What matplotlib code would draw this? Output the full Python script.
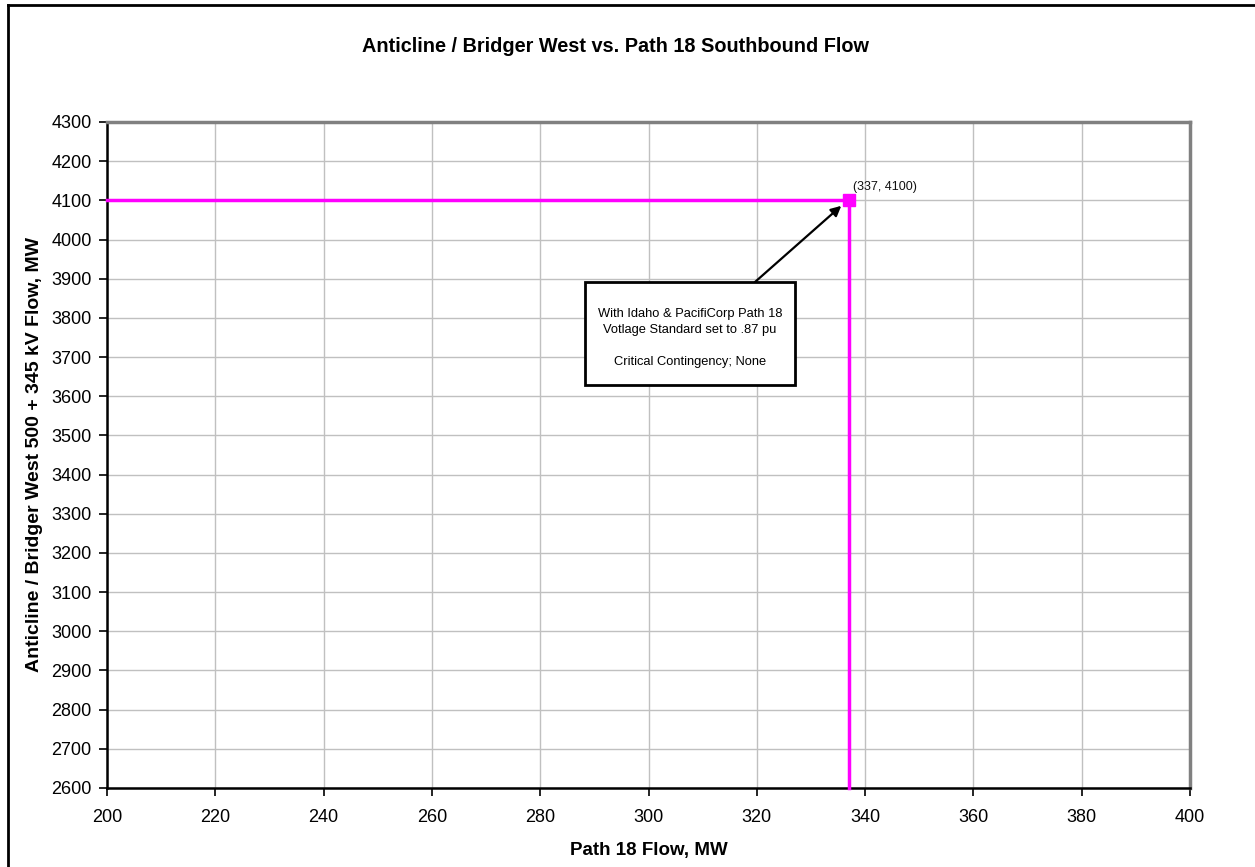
import numpy as np
import matplotlib.pyplot as plt
from matplotlib.lines import Line2D
from matplotlib.patches import Rectangle

plt.rcParams['font.family'] = ['Liberation Sans', 'DejaVu Sans']

# limit point and its guide lines
point_x = 337
point_y = 4100
guide_x = [200, 337, 337]
guide_y = [4100, 4100, 2600]
point_label = '(337, 4100)'

x_ticks = np.arange(200, 401, 20)
y_ticks = np.arange(2600, 4301, 100)

note_lines = ['With Idaho & PacifiCorp Path 18',
              'Votlage Standard set to .87 pu',
              '',
              'Critical Contingency; None']

W, H = 1255, 867
fig = plt.figure(figsize=(W/100, H/100), dpi=100)
ax = fig.add_axes([107/W, 79/H, 1083/W, 666/H])

ax.plot(guide_x, guide_y, color='#ff00ff', lw=2.5, zorder=3, clip_on=False)
ax.plot([point_x], [point_y], marker='s', ms=8, color='#ff00ff', zorder=4, clip_on=False)
ax.annotate(point_label, (point_x, point_y), xytext=(3, 5), textcoords='offset points',
            fontsize=9, color='#111111', ha='left', va='bottom')

ax.set_xlim(200, 400)
ax.set_ylim(2600, 4300)
ax.set_xticks(x_ticks)
ax.set_yticks(y_ticks)
ax.tick_params(labelsize=13, direction='out', length=6, width=1.2, color='black')
ax.tick_params(axis='x', pad=9)
ax.tick_params(axis='y', pad=5)
ax.grid(True, color='#c0c0c0', lw=1)
ax.set_axisbelow(True)
for s in ['left', 'bottom']:
    ax.spines[s].set_color('black')
    ax.spines[s].set_linewidth(1.8)
for s in ['top', 'right']:
    ax.spines[s].set_color('#808080')
    ax.spines[s].set_linewidth(2.5)

ax.set_xlabel('Path 18 Flow, MW', fontsize=13.5, fontweight='bold', labelpad=12)
ax.set_ylabel('Anticline / Bridger West 500 + 345 kV Flow, MW', fontsize=14,
              fontweight='bold', labelpad=6)
fig.text(615/W, 1 - 47/H, 'Anticline / Bridger West vs. Path 18 Southbound Flow',
         ha='center', va='center', fontsize=14.3, fontweight='bold')

# note box with arrow to the point
fig.add_artist(Rectangle((585/W, 1 - 385/H), 210/W, 103/H, transform=fig.transFigure,
                         fc='white', ec='black', lw=2, zorder=5))
fig.text(690/W, 1 - 338/H, '\n'.join(note_lines), ha='center', va='center',
         fontsize=9.3, linespacing=1.45, zorder=6)
ax.annotate('', xy=(335.6, 4086), xytext=(755/W, 1 - 282/H),
            textcoords='figure fraction',
            arrowprops=dict(arrowstyle='-|>', color='black', lw=1.6, mutation_scale=15,
                            shrinkA=0, shrinkB=0),
            zorder=5)

# chart area frame
fig.add_artist(Line2D([8/W, 8/W], [0, 1 - 5/H], color='black', lw=2,
                      transform=fig.transFigure))
fig.add_artist(Line2D([8/W, 1], [1 - 5/H, 1 - 5/H], color='black', lw=2,
                      transform=fig.transFigure))

fig.savefig('out.png', dpi=100)
